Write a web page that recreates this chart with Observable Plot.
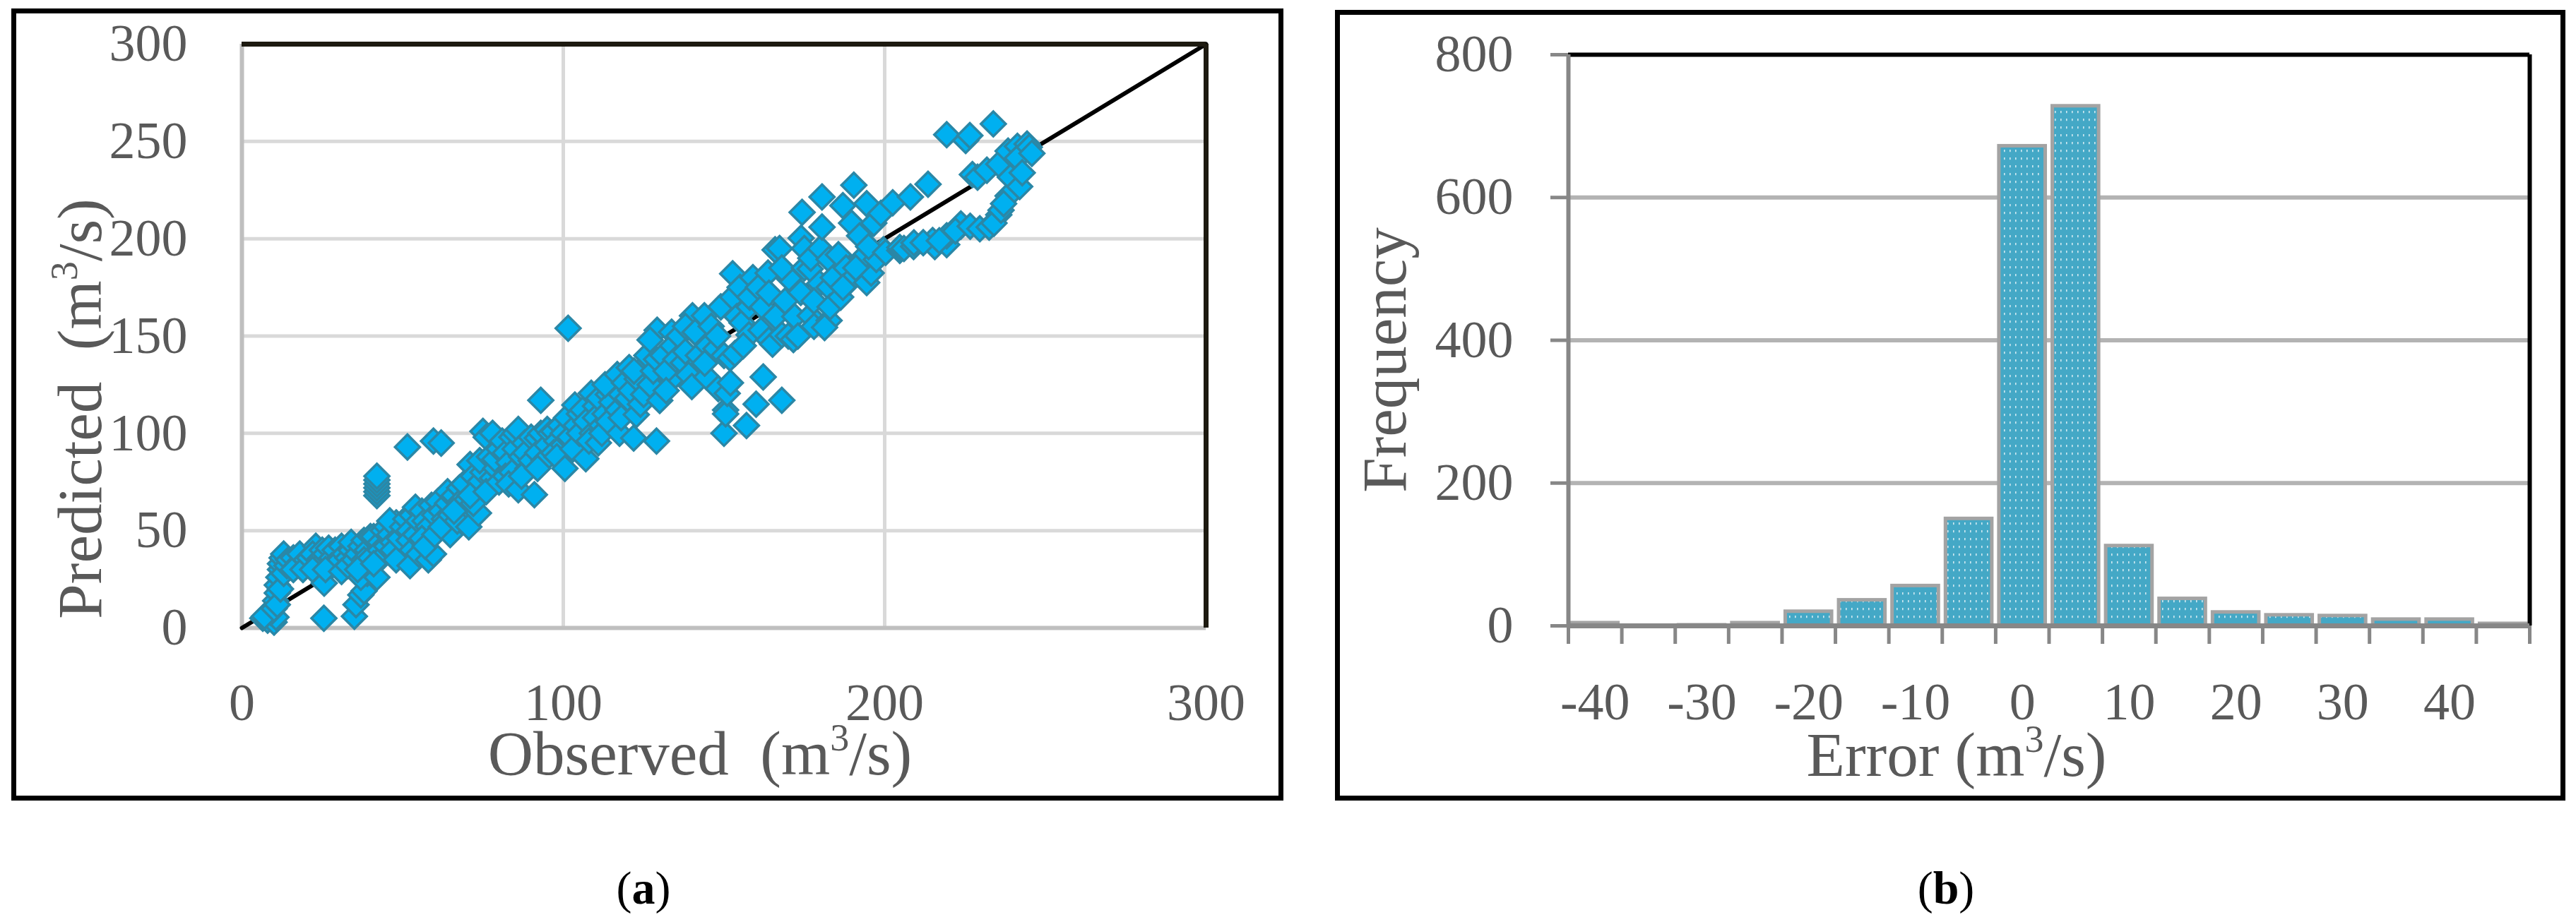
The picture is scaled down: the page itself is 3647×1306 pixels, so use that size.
<!DOCTYPE html>
<html>
<head>
<meta charset="utf-8">
<script src="https://cdn.jsdelivr.net/npm/d3@7"></script>
<script src="https://cdn.jsdelivr.net/npm/@observablehq/plot@0.6"></script>
<style>
  html, body { margin: 0; padding: 0; background: #fff; }
  #page { position: relative; width: 3647px; height: 1306px; overflow: hidden; background: #fff; font-family: "Liberation Serif", serif; }
  .box { position: absolute; box-sizing: border-box; border: 7px solid #000; }
  .chart { position: absolute; top: 0; }
  #labels { position: absolute; left: 0; top: 0; pointer-events: none; }
  #labels text { white-space: pre; font-family: "Liberation Serif", serif; }
</style>
</head>
<body>
<svg width="0" height="0" style="position:absolute">
  <defs>
    <pattern id="dotfill" patternUnits="userSpaceOnUse" width="8" height="11">
      <rect width="8" height="11" fill="#44a8c6"></rect>
      <rect x="3" y="3" width="1.6" height="3.2" fill="#ffffff" fill-opacity="0.75"></rect>
    </pattern>
  </defs>
</svg>
<div id="page">
  <div class="box" style="left:16px;top:12px;width:1801px;height:1122px"></div>
  <div class="box" style="left:1890px;top:14px;width:1742px;height:1120px"></div>
  <div id="chartA" class="chart" style="left:0px"></div>
  <div id="chartB" class="chart" style="left:1850px"></div>
  <svg id="labels" width="3647" height="1306">
    <text x="991" y="1097" text-anchor="middle" font-size="89" fill="#595959">Observed  (m<tspan font-size="54" dy="-34">3</tspan><tspan dy="34">/s)</tspan></text>
    <text transform="translate(143,579) rotate(-90)" text-anchor="middle" font-size="89" fill="#595959">Predicted  (m<tspan font-size="54" dy="-34">3</tspan><tspan dy="34">/s)</tspan></text>
    <text transform="translate(1990,510) rotate(-90)" text-anchor="middle" font-size="89" fill="#595959">Frequency</text>
    <text x="2770" y="1099" text-anchor="middle" font-size="89" fill="#595959">Error (m<tspan font-size="54" dy="-34">3</tspan><tspan dy="34">/s)</tspan></text>
    <text x="911" y="1280" text-anchor="middle" font-size="66" fill="#000">(<tspan font-weight="bold">a</tspan>)</text>
    <text x="2755" y="1280" text-anchor="middle" font-size="66" fill="#000">(<tspan font-weight="bold">b</tspan>)</text>
  </svg>
</div>
<script>
// ---------- Panel (a): observed vs predicted discharge (m3/s) ----------
const observed = [
  6.5, 8, 10, 10.6, 9, 7,
  10, 10.5, 11, 11, 11.5, 12, 12, 12.5, 13, 11, 12, 13, 14, 14.5,
  16, 17, 18, 19, 16, 18, 20, 19,
  21, 23, 22, 24, 25, 24, 22, 25.6,
  26, 27, 28, 29, 28, 30, 26, 25.5,
  31, 32, 33, 34, 31, 33, 34, 35,
  35, 35.5, 37, 38, 36, 37, 38, 39, 38, 39, 37, 36, 40, 40,
  42, 42, 42, 42, 42, 42, 41, 43, 44, 43, 44, 42, 41, 45, 45,
  46, 47, 48, 49, 46, 47, 48, 49, 50,
  51.5, 51, 52, 53, 54, 52, 53, 52.3, 54, 55, 55,
  56, 57, 58, 59, 56, 58, 59.6, 57, 59.6, 60, 60,
  62, 61, 62, 63, 64, 64.8, 62, 64, 65,
  66, 67.7, 68, 69, 67, 70.6, 69, 70, 66,
  71, 72, 73, 74, 73.6, 72, 75, 74, 71, 75,
  76, 78, 77, 78, 79, 76, 78.7, 80, 80,
  81, 82, 83, 84, 82, 84, 85, 85, 83,
  86, 86, 87, 88, 88.2, 89, 87, 90, 90,
  91, 93, 91.9, 92, 93, 94, 95, 92, 95,
  96, 97, 98, 99, 97, 100, 98, 100,
  101.5, 100.5, 101, 102, 103.6, 104, 103, 105, 105,
  107, 106, 107, 108.7, 109, 108, 110, 110.9, 110,
  111, 112, 113, 114, 112, 115, 114, 113,
  116.8, 117.5, 117, 118, 119, 118, 120, 120.5,
  121.9, 122.7, 121, 123, 124, 125.6, 122, 125,
  129, 129.2, 126, 127, 128, 130, 129, 127,
  133.7, 133.7, 131, 132, 134, 135, 132,
  137.3, 136, 138, 139, 140, 140.2, 138,
  143.9, 143.2, 144.6, 142, 141, 145, 144,
  147.5, 148.2, 149, 146, 148, 150, 150.5, 150, 150.5,
  151, 151.9, 152.7, 152.7, 153.4, 152, 154, 155.6, 155,
  157, 157.8, 157.8, 156, 158, 159, 160, 160.7,
  161.5, 162.2, 163.7, 162, 164, 165.1, 165.9, 164,
  168, 168, 170.2, 167.3, 166, 169, 170, 168,
  171.6, 173.9, 174, 174.3, 172, 175, 173, 175,
  176.8, 176.8, 179.8, 178, 177, 180, 178,
  180.5, 180.5, 182.7, 182.7, 182.7, 181.3, 183, 184,
  187, 185.6, 186.3, 189.7, 188, 190.4, 189, 187,
  192.2, 194.4, 194.4, 195.8, 195.1, 193, 191,
  196.6, 198.8, 197.4, 199.6, 195, 200.3,
  202.5, 204.7, 204.7, 206,
  208, 209, 209.1,
  213.5, 214.9, 215.6, 212,
  219.3, 219.3, 219.3, 217,
  223.7, 223.7, 225.2, 226.5, 222,
  226.6, 227.3, 228.9, 229.6,
  231.8, 232.5, 233.8, 235.5, 235.5, 234,
  236.2, 238.4, 238.4, 239.1, 237,
  241.3, 241.3, 242, 242.8, 244.3, 245, 245.8
];
const predicted = [
  5, 4, 3, 5.5, 8, 6,
  10, 14, 18, 22, 26, 30, 33, 36, 38, 12, 20, 28, 32, 35,
  36, 32, 34, 33, 30, 38, 35, 30,
  36, 42, 38, 35, 40, 32, 30, 23,
  38, 41, 36, 40, 32, 34, 30, 5,
  42, 38, 36, 40, 29, 32, 44, 35,
  6, 12, 17, 19, 38, 42, 45, 40, 35, 28, 26, 30, 47, 36,
  68, 70, 72, 74, 76, 78, 47, 44, 50, 40, 37, 26, 33, 42, 52,
  48, 44, 54, 50, 55, 40, 35, 46, 52,
  93, 56, 50, 58, 62, 45, 40, 32, 48, 55, 38,
  60, 55, 52, 63, 46, 35, 38, 42, 96, 58, 48,
  95, 65, 60, 56, 64, 48, 52, 70, 58,
  68, 72, 65, 60, 55, 52, 74, 66, 60,
  84, 78, 70, 75, 59, 64, 80, 86, 68, 101,
  98, 100, 88, 77, 82, 70, 86.7, 92, 75,
  96, 90, 85, 98, 78, 80, 92, 100, 74,
  102, 71, 88, 95, 90, 82, 78, 98, 86,
  68.5, 117, 97.6, 90, 100, 86, 94, 82, 102,
  100, 101, 96, 104, 90, 94, 88, 100,
  154, 82, 108, 98, 114.5, 104, 92, 110, 100,
  87, 112, 106, 120.6, 100, 96, 114, 95.1, 108,
  118, 104, 110, 120, 100, 116, 106, 125,
  130.2, 100, 112, 120, 126, 108, 118, 133.8,
  97.6, 109.6, 122, 128, 115, 135, 132, 120,
  96, 153, 140, 125, 132, 116.9, 138, 148,
  152, 127.8, 140, 132, 145, 138, 122,
  136.2, 150, 142, 130, 124.1, 160.4, 155,
  160.4, 148.2, 129, 140, 152, 145, 136,
  143.5, 123, 165, 155, 150, 140, 112, 100, 110,
  120.5, 138.6, 182, 170, 141, 126, 160, 156.8, 175,
  104, 165, 150.6, 145, 170, 180, 115, 175,
  153, 129, 182.4, 165, 148, 145.8, 194.3, 172,
  117, 150.6, 179.7, 195, 160, 168, 150, 185,
  148.2, 172.4, 200.3, 213.6, 160, 185, 150, 195,
  184.5, 160.4, 177, 168, 190, 195, 155,
  221.5, 206, 175, 189.4, 158, 154.4, 165, 180,
  217, 191.8, 170, 208, 185, 227.5, 178, 175,
  201.5, 218, 177.5, 182.4, 191.8, 190, 185,
  208, 213, 189.4, 194.3, 196, 193,
  218.5, 194, 195.5, 195,
  221.5, 196, 197.9,
  228, 199.1, 196, 198,
  253.5, 197, 201.5, 199,
  206.4, 207.6, 250.5, 253, 204,
  206.4, 233, 231.6, 205.1,
  235.2, 206, 259, 238.3, 212.3, 208,
  214.7, 222, 245, 231.6, 218,
  247.5, 241.4, 226.8, 233.9, 248.7, 247, 243.9
];
const scatterTicksX = [0, 100, 200, 300];
const scatterTicksY = [0, 50, 100, 150, 200, 250, 300];
const identityLine = [0, 300];

// ---------- Panel (b): histogram of errors ----------
const errorBins = [-40, -35, -30, -25, -20, -15, -10, -5, 0, 5, 10, 15, 20, 25, 30, 35, 40, 45];
const frequency = [4, 0, 1, 4, 20, 36, 56, 150, 672, 728, 112, 38, 19, 15, 14, 9, 9, 3];
const errorTickLabels = [-40, -30, -20, -10, 0, 10, 20, 30, 40];
const frequencyTicks = [0, 200, 400, 600, 800];

const points = observed.map((o, i) => ({observed: o, predicted: predicted[i]}));
const binWidth = errorBins[1] - errorBins[0];
const hist = errorBins.map((b, i) => ({x1: b - binWidth / 2, x2: b + binWidth / 2, count: frequency[i]})).filter(d => d.count > 0);
const binEdges = errorBins.map(b => b - binWidth / 2).concat([errorBins[errorBins.length - 1] + binWidth / 2]);
const xMin = binEdges[0], xMax = binEdges[binEdges.length - 1];

const baseStyle = {fontFamily: "Liberation Serif", fontSize: "74px", color: "#595959", background: "transparent", overflow: "visible"};

const chartA = Plot.plot({
  width: 1850, height: 1140,
  marginLeft: 342, marginRight: 143, marginTop: 62, marginBottom: 251,
  style: baseStyle,
  x: {domain: [0, 300]},
  y: {domain: [0, 300]},
  marks: [
    Plot.ruleY(scatterTicksY.slice(1, -1), {stroke: "#d9d9d9", strokeWidth: 5}),
    Plot.ruleX(scatterTicksX.slice(1, -1), {stroke: "#d9d9d9", strokeWidth: 5}),
    Plot.ruleX([0], {stroke: "#bfbfbf", strokeWidth: 6}),
    Plot.ruleY([0], {stroke: "#bfbfbf", strokeWidth: 6}),
    Plot.line(identityLine, {x: d => d, y: d => d, stroke: "#000", strokeWidth: 6}),
    Plot.dot(points, {x: "observed", y: "predicted", symbol: "diamond2", r: 15.8, fill: "#00b0f0", stroke: "#2b87a6", strokeWidth: 3.5}),
    Plot.ruleY([300], {stroke: "#1d1a10", strokeWidth: 7}),
    Plot.ruleX([300], {stroke: "#1d1a10", strokeWidth: 7}),
    Plot.axisX({ticks: scatterTicksX, tickSize: 0, tickPadding: 78, label: null, tickFormat: d => String(d)}),
    Plot.axisY({ticks: scatterTicksY, tickSize: 0, tickPadding: 77, label: null, tickFormat: d => String(d)})
  ]
});
document.getElementById("chartA").appendChild(chartA);

const chartB = Plot.plot({
  width: 1797, height: 1140,
  marginLeft: 370, marginRight: 66, marginTop: 77, marginBottom: 254,
  style: baseStyle,
  x: {domain: [xMin, xMax]},
  y: {domain: [0, 800]},
  marks: [
    Plot.ruleY(frequencyTicks.slice(1, -1), {stroke: "#b3b3b3", strokeWidth: 6}),
    Plot.rectY(hist, {x1: "x1", x2: "x2", y: "count", fill: "url(#dotfill)", stroke: "#a3a3a3", strokeWidth: 5, insetLeft: 5, insetRight: 5}),
    Plot.ruleY([800], {stroke: "#000", strokeWidth: 6}),
    Plot.ruleX([xMax], {stroke: "#000", strokeWidth: 6}),
    Plot.ruleX([xMin], {stroke: "#878787", strokeWidth: 6}),
    Plot.ruleY([0], {stroke: "#878787", strokeWidth: 7}),
    Plot.axisX({ticks: binEdges, tickSize: 26, tickFormat: () => "", stroke: "#878787", strokeWidth: 5, label: null}),
    Plot.axisX({ticks: errorTickLabels, tickSize: 0, tickPadding: 80, tickFormat: d => String(d), label: null}),
    Plot.axisY({ticks: frequencyTicks, tickSize: 25, tickPadding: 53, stroke: "#878787", strokeWidth: 5, tickFormat: d => String(d), label: null})
  ]
});
document.getElementById("chartB").appendChild(chartB);
</script>
</body>
</html>
